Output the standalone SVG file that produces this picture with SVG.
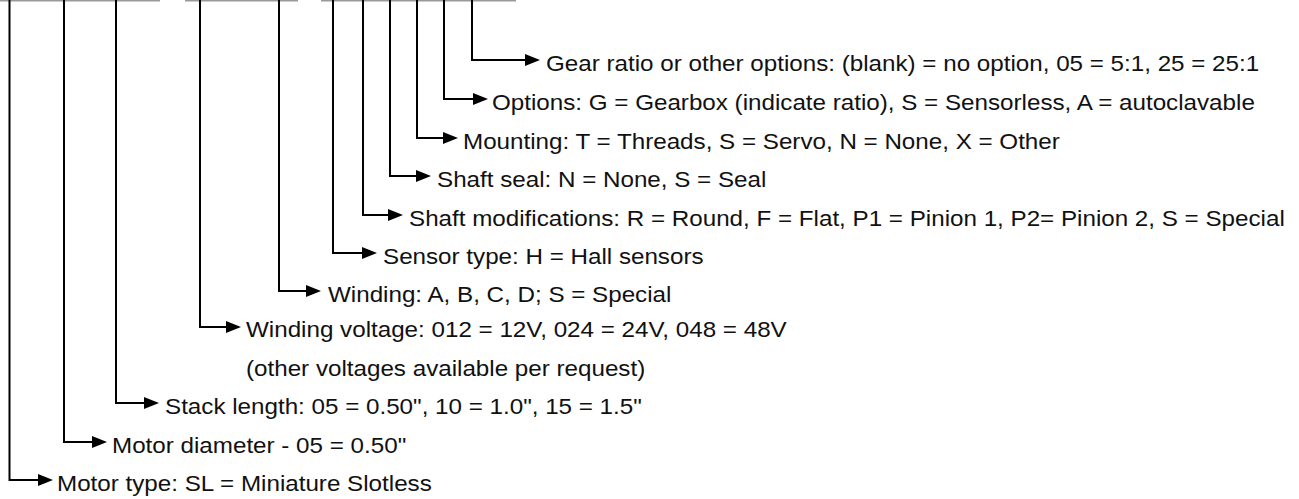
<svg xmlns="http://www.w3.org/2000/svg" width="1299" height="499" viewBox="0 0 1299 499">
<style>
.c{fill:none;stroke:#000;stroke-width:2}
.top{fill:none;stroke:#999;stroke-width:2}
text{font-family:"Liberation Sans",Arial,sans-serif;font-size:22px;fill:#111}
</style>
<defs>
<marker id="ah" markerUnits="userSpaceOnUse" viewBox="0 0 15 12" refX="6" refY="6" markerWidth="15" markerHeight="12" orient="auto">
<path d="M0,0 L15,6 L0,12 z" fill="#000"/>
</marker>
</defs>
<g id="topbars">
<line class="top" x1="0" y1="0.5" x2="160" y2="0.5"/>
<line class="top" x1="185" y1="0.5" x2="298" y2="0.5"/>
<line class="top" x1="321" y1="0.5" x2="516" y2="0.5"/>
</g>
<g id="connectors">
<path class="c" d="M472,0 V60 H531" marker-end="url(#ah)"/>
<path class="c" d="M444,0 V99 H479" marker-end="url(#ah)"/>
<path class="c" d="M417,0 V138 H449" marker-end="url(#ah)"/>
<path class="c" d="M390,0 V176 H422" marker-end="url(#ah)"/>
<path class="c" d="M363,0 V215 H394" marker-end="url(#ah)"/>
<path class="c" d="M333,0 V253 H368" marker-end="url(#ah)"/>
<path class="c" d="M279,0 V291 H312" marker-end="url(#ah)"/>
<path class="c" d="M200,0 V327 H232" marker-end="url(#ah)"/>
<path class="c" d="M116,0 V403 H150" marker-end="url(#ah)"/>
<path class="c" d="M64,0 V442 H98" marker-end="url(#ah)"/>
<path class="c" d="M9.5,0 V480 H44" marker-end="url(#ah)"/>
</g>
<g id="gear"><text transform="translate(546,71) scale(1.1,1)">Gear ratio or other options: (blank) = no option, 05 = 5:1, 25 = 25:1</text></g>
<g id="options"><text transform="translate(492,110) scale(1.1,1)">Options: G = Gearbox (indicate ratio), S = Sensorless, A = autoclavable</text></g>
<g id="mounting"><text transform="translate(463,149) scale(1.1,1)">Mounting: T = Threads, S = Servo, N = None, X = Other</text></g>
<g id="shaftseal"><text transform="translate(437,187) scale(1.1,1)">Shaft seal: N = None, S = Seal</text></g>
<g id="shaftmod"><text transform="translate(409,226) scale(1.1,1)">Shaft modifications: R = Round, F = Flat, P1 = Pinion 1, P2= Pinion 2, S = Special</text></g>
<g id="sensor"><text transform="translate(383,264) scale(1.1,1)">Sensor type: H = Hall sensors</text></g>
<g id="winding"><text transform="translate(328,302) scale(1.1,1)">Winding: A, B, C, D; S = Special</text></g>
<g id="voltage"><text transform="translate(246,337) scale(1.1,1)">Winding voltage: 012 = 12V, 024 = 24V, 048 = 48V</text><text transform="translate(246,376) scale(1.1,1)">(other voltages available per request)</text></g>
<g id="stack"><text transform="translate(165,414) scale(1.1,1)">Stack length: 05 = 0.50", 10 = 1.0", 15 = 1.5"</text></g>
<g id="diameter"><text transform="translate(112,453) scale(1.1,1)">Motor diameter - 05 = 0.50"</text></g>
<g id="type"><text transform="translate(57,491) scale(1.1,1)">Motor type: SL = Miniature Slotless</text></g>
</svg>
